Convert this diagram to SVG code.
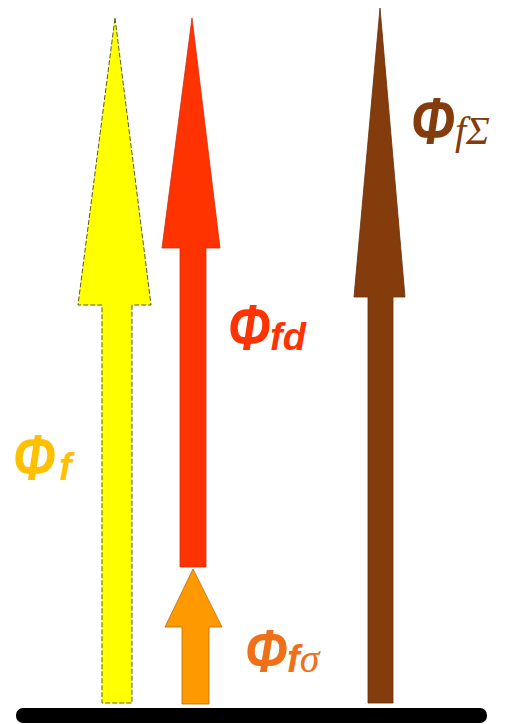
<svg xmlns="http://www.w3.org/2000/svg" width="525" height="724" viewBox="0 0 525 724">
<style>
.lbl{font-family:"Liberation Sans",Arial,sans-serif;font-weight:bold;font-style:italic;}
.big{font-size:56px;}
.sub{font-size:38px;}
.ser{font-family:"Liberation Serif","Times New Roman",serif;font-weight:normal;font-style:italic;font-size:40px;}
</style>
<rect width="525" height="724" fill="#ffffff"/>
<g id="connectors">
<path id="arrow-f" d="M115,18 L151,305 L132,305 L132,703 L102,703 L102,305 L78,305 Z" fill="#FFFF00" stroke="#5a5a20" stroke-width="1" stroke-dasharray="5 2"/>
<path id="arrow-fd" d="M192,18 L220,248 L206,248 L206,567 L180,567 L180,248 L162,248 Z" fill="#FF3300" stroke="#d03010" stroke-width="0.8"/>
<path id="arrow-fs" d="M193,569 L222,627 L209,627 L209,704 L182,704 L182,627 L165,627 Z" fill="#FF9900" stroke="#b86a10" stroke-width="0.8"/>
<path id="arrow-fS" d="M380,8 L405,297 L393,297 L393,703 L368,703 L368,297 L354,297 Z" fill="#843C0C" stroke="#6a2e08" stroke-width="0.8"/>
</g>
<g id="ground"><rect x="16" y="708" width="471" height="15" rx="7" fill="#000000"/></g>
<g id="label-f" fill="#FFC000">
<text class="lbl big" transform="translate(13,480) scale(0.92,1.15)">Φ</text>
<text class="lbl sub" x="59" y="480">f</text>
</g>
<g id="label-fd" fill="#FF3300">
<text class="lbl big" transform="translate(228,350) scale(0.92,1.15)">Φ</text>
<text class="lbl sub" x="270" y="350">fd</text>
</g>
<g id="label-fs" fill="#F07018">
<text class="lbl big" transform="translate(245,672) scale(0.92,1.1)">Φ</text>
<text class="lbl sub" x="287" y="672">f<tspan class="ser">σ</tspan></text>
</g>
<g id="label-fS" fill="#843C0C">
<text class="lbl big" transform="translate(411,144) scale(0.95,1.2)">Φ</text>
<text class="ser" x="455" y="144">fΣ</text>
</g>
</svg>
